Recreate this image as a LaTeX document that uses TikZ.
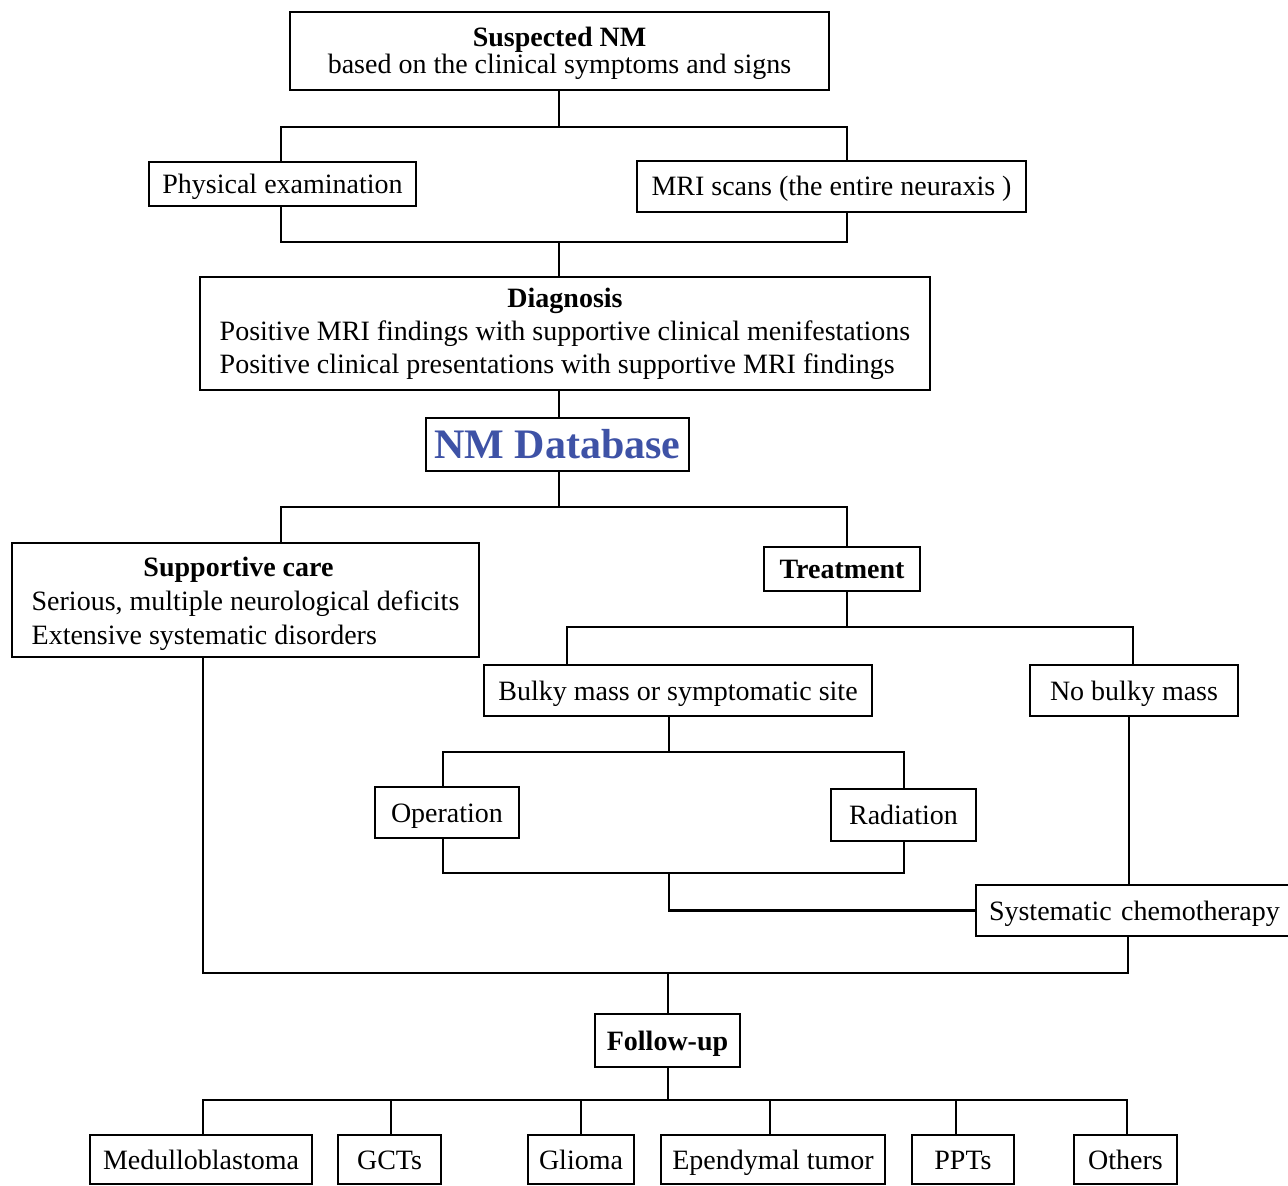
\documentclass[tikz,border=0pt]{standalone}
\usepackage{fontspec}
\setmainfont{Liberation Serif}
\definecolor{dbblue}{RGB}{62,82,166}
\begin{document}
\begin{tikzpicture}[x=0.5pt,y=-0.5pt,
  box/.style={draw, line width=1.2pt, inner sep=0pt, align=center, font=\fontsize{14}{16.5}\selectfont},
  one/.style={text height=12.5pt, text depth=3pt},
  conn/.style={line width=1.1pt}]
\useasboundingbox[fill=white] (0,0) rectangle (1288,1186);
% nodes
\node[box, minimum width=269.5pt, minimum height=39pt, font=\fontsize{14}{13.5}\selectfont] (top) at (559.5,51) {\rule{0pt}{12pt}\textbf{Suspected NM}\\based on the clinical symptoms and signs};
\node[box, one, minimum width=133.5pt, minimum height=22pt] (phys) at (282.5,184) {Physical examination};
\node[box, one, minimum width=194.5pt, minimum height=25.5pt] (mri) at (831.5,186.5) {MRI scans (the entire neuraxis )};
\node[box, minimum width=365pt, minimum height=56.5pt] (diag) at (565,333.5) {\begin{tabular}{@{}l@{}}\multicolumn{1}{@{}c@{}}{\textbf{Diagnosis}}\\Positive MRI findings with supportive clinical menifestations\\Positive clinical presentations with supportive MRI findings\end{tabular}};
\node[box, minimum width=131.5pt, minimum height=26.5pt, font=\fontsize{21}{24}\selectfont\bfseries, text=dbblue] (db) at (557.5,444.5) {NM Database};
\node[box, minimum width=233.5pt, minimum height=57pt, font=\fontsize{14}{17}\selectfont] (supp) at (245.5,600) {\begin{tabular}{@{}l@{}}\multicolumn{1}{@{}c@{}}{\rule{0pt}{16pt}\textbf{Supportive care}\hspace*{7pt}}\\Serious, multiple neurological deficits\\Extensive systematic disorders\end{tabular}};
\node[box, one, minimum width=78pt, minimum height=22pt] (treat) at (842,569) {\textbf{Treatment}};
\node[box, one, minimum width=194pt, minimum height=25.5pt] (bulky) at (678,690.5) {Bulky mass or symptomatic site};
\node[box, one, minimum width=104pt, minimum height=25.5pt] (nobulky) at (1134,690.5) {No bulky mass};
\node[box, one, minimum width=72pt, minimum height=25.5pt] (oper) at (447,812.5) {Operation};
\node[box, one, minimum width=72.5pt, minimum height=26pt] (rad) at (903.5,815) {Radiation};
\node[box, one, minimum width=160pt, minimum height=25.5pt, text width=154pt, align=left] (chemo) at (1136,910.5) {\hspace*{3.5pt}Systematic chemotherapy};
\node[box, one, minimum width=72.5pt, minimum height=26.5pt] (follow) at (667.5,1040.5) {\textbf{Follow-up}};
\node[box, one, minimum width=111pt, minimum height=24.5pt] (medu) at (201,1159.5) {Medulloblastoma};
\node[box, one, minimum width=51.5pt, minimum height=24.5pt] (gct) at (389.5,1159.5) {GCTs};
\node[box, one, minimum width=53pt, minimum height=24.5pt] (glioma) at (581,1159.5) {Glioma};
\node[box, one, minimum width=112pt, minimum height=24.5pt] (epend) at (773,1159.5) {Ependymal tumor};
\node[box, one, minimum width=51pt, minimum height=24.5pt] (ppt) at (963,1159.5) {PPTs};
\node[box, one, minimum width=51.5pt, minimum height=24.5pt] (others) at (1125.5,1159.5) {Others};
% connectors
\draw[conn] (559,0 |- top.south) -- (559,127);
\draw[conn] (281,0 |- phys.north) |- (847,127) -- (847,0 |- mri.north);
\draw[conn] (281,0 |- phys.south) |- (847,242) -- (847,0 |- mri.south);
\draw[conn] (559,242) -- (559,0 |- diag.north);
\draw[conn] (559,0 |- diag.south) -- (559,0 |- db.north);
\draw[conn] (559,0 |- db.south) -- (559,507);
\draw[conn] (281,0 |- supp.north) |- (847,507) -- (847,0 |- treat.north);
\draw[conn] (847,0 |- treat.south) -- (847,627);
\draw[conn] (567,0 |- bulky.north) |- (1133,627) -- (1133,0 |- nobulky.north);
\draw[conn] (669,0 |- bulky.south) -- (669,752);
\draw[conn] (443,0 |- oper.north) |- (904,752) -- (904,0 |- rad.north);
\draw[conn] (443,0 |- oper.south) |- (904,873) -- (904,0 |- rad.south);
\draw[conn] (669,873) |- (chemo.west);
\draw[conn] (1129,0 |- nobulky.south) -- (1129,0 |- chemo.north);
\draw[conn] (203,0 |- supp.south) |- (1128,973) -- (1128,0 |- chemo.south);
\draw[conn] (668,973) -- (668,0 |- follow.north);
\draw[conn] (668,0 |- follow.south) -- (668,1100);
\draw[conn] (203,0 |- medu.north) |- (1127,1100) -- (1127,0 |- others.north);
\draw[conn] (391,0 |- gct.north) -- (391,1100);
\draw[conn] (581,0 |- glioma.north) -- (581,1100);
\draw[conn] (770,0 |- epend.north) -- (770,1100);
\draw[conn] (956,0 |- ppt.north) -- (956,1100);
\end{tikzpicture}
\end{document}
